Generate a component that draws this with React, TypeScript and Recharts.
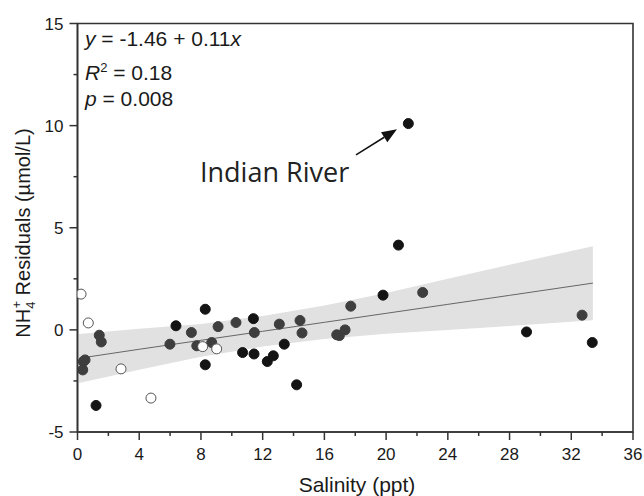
import {
  ComposedChart,
  XAxis,
  YAxis,
  Scatter,
  Line,
  Area,
  ReferenceArea,
  ReferenceLine,
} from "recharts";

// salinity (ppt) / NH4+ residual (umol/L)
const blackSalinity = [1.2, 6.38, 8.28, 8.28, 10.7, 11.4, 11.44, 12.3, 12.69, 13.4, 14.2, 19.8, 20.8, 21.44, 29.1, 33.36];
const blackResidual = [-3.7, 0.2, 1.01, -1.71, -1.11, 0.55, -1.18, -1.55, -1.27, -0.7, -2.69, 1.7, 4.15, 10.1, -0.1, -0.62];

const greySalinity = [1.41, 1.54, 0.38, 0.49, 0.34, 5.99, 7.38, 7.73, 8.7, 9.11, 10.27, 11.46, 13.08, 14.42, 14.55, 16.8, 16.97, 17.34, 17.71, 22.37, 32.7];
const greyResidual = [-0.26, -0.59, -1.55, -1.47, -1.96, -0.7, -0.13, -0.78, -0.62, 0.16, 0.36, -0.13, 0.28, 0.46, -0.15, -0.24, -0.28, 0.0, 1.16, 1.83, 0.72];

const openSalinity = [0.23, 0.7, 2.82, 4.76, 8.11, 9.02];
const openResidual = [1.75, 0.34, -1.91, -3.34, -0.82, -0.93];

// regression line and 95% band
const bandSalinity = [0.1, 4, 8, 12, 16, 20, 24, 28, 33.4];
const fitValues = [-1.39, -0.95, -0.51, -0.07, 0.37, 0.81, 1.25, 1.69, 2.29];
const bandLower = [-2.6, -1.95, -1.31, -0.82, -0.45, -0.19, 0.0, 0.19, 0.47];
const bandUpper = [-0.2, 0.05, 0.29, 0.68, 1.19, 1.81, 2.5, 3.19, 4.1];

const xTicks = [0, 2, 4, 6, 8, 10, 12, 14, 16, 18, 20, 22, 24, 26, 28, 30, 32, 34, 36];
const yTicks = [-5, -2.5, 0, 2.5, 5, 7.5, 10, 12.5, 15];

// arrow pointing at the Indian River site
const arrowFrom = { x: 18.05, y: 8.57 };
const arrowTo = { x: 20.7, y: 9.82 };

const toPoints = (xs: number[], ys: number[]) => xs.map((x, i) => ({ x, y: ys[i] }));
const blackData = toPoints(blackSalinity, blackResidual);
const greyData = toPoints(greySalinity, greyResidual);
const openData = toPoints(openSalinity, openResidual);
const bandData = bandSalinity.map((x, i) => ({
  x,
  fit: fitValues[i],
  range: [bandLower[i], bandUpper[i]],
}));

const W = 644;
const H = 496;
const FONT = "'Liberation Sans', Arial, sans-serif";
const AXIS = "#333";

const XTick = (props: any) => {
  const { x, y, payload } = props;
  const major = payload.value % 4 === 0;
  return (
    <g>
      <line x1={x} x2={x} y1={y} y2={y + (major ? 8 : 4)} stroke={AXIS} strokeWidth={1.5} />
      {major && (
        <text x={x} y={y + 28} textAnchor="middle" fontSize={17} fill="#1a1a1a" fontFamily={FONT}>
          {payload.value}
        </text>
      )}
    </g>
  );
};

const YTick = (props: any) => {
  const { x, y, payload } = props;
  const major = payload.value % 5 === 0;
  return (
    <g>
      <line x1={x - (major ? 8 : 4)} x2={x} y1={y} y2={y} stroke={AXIS} strokeWidth={1.5} />
      {major && (
        <text x={x - 14} y={y} dy="0.36em" textAnchor="end" fontSize={17} fill="#1a1a1a" fontFamily={FONT}>
          {payload.value}
        </text>
      )}
    </g>
  );
};

const dot = (fill: string, stroke: string) => (props: any) => (
  <circle cx={props.cx} cy={props.cy} r={5} fill={fill} stroke={stroke} strokeWidth={1} />
);

const Arrow = (props: any) => {
  const { x1, y1, x2, y2 } = props;
  const ang = Math.atan2(y2 - y1, x2 - x1);
  const len = 15;
  const half = 6;
  const bx = x2 - len * Math.cos(ang);
  const by = y2 - len * Math.sin(ang);
  const px = -Math.sin(ang) * half;
  const py = Math.cos(ang) * half;
  return (
    <g>
      <line x1={x1} y1={y1} x2={bx} y2={by} stroke="#111" strokeWidth={1.5} />
      <polygon points={`${x2},${y2} ${bx + px},${by + py} ${bx - px},${by - py}`} fill="#111" />
    </g>
  );
};

export default function App() {
  return (
    <div
      style={{
        position: "absolute",
        left: 0,
        top: 0,
        width: W,
        height: H,
        background: "#fff",
        fontFamily: FONT,
      }}
    >
      <ComposedChart width={W} height={H} margin={{ top: 23.5, right: 11, left: 0, bottom: 0 }}>
        <XAxis
          type="number"
          dataKey="x"
          domain={[0, 36]}
          ticks={xTicks}
          interval={0}
          tickSize={0}
          tickMargin={0}
          tick={<XTick />}
          axisLine={{ stroke: AXIS, strokeWidth: 1.6 }}
          height={64}
          allowDataOverflow
        />
        <YAxis
          type="number"
          domain={[-5, 15]}
          ticks={yTicks}
          interval={0}
          tickSize={0}
          tickMargin={0}
          tick={<YTick />}
          axisLine={{ stroke: AXIS, strokeWidth: 1.6 }}
          width={77.5}
          allowDataOverflow
        />
        <Area
          data={bandData}
          dataKey="range"
          type="linear"
          stroke="none"
          fill="#e1e1e1"
          fillOpacity={1}
          isAnimationActive={false}
        />
        <Line
          data={bandData}
          dataKey="fit"
          type="linear"
          stroke="#666"
          strokeWidth={1}
          dot={false}
          isAnimationActive={false}
        />
        <Scatter data={blackData} dataKey="y" shape={dot("#141414", "#141414")} isAnimationActive={false} />
        <Scatter data={greyData} dataKey="y" shape={dot("#3e3e3e", "#3e3e3e")} isAnimationActive={false} />
        <Scatter data={openData} dataKey="y" shape={dot("#ffffff", "#555")} isAnimationActive={false} />
        <ReferenceArea x1={0} x2={36} y1={-5} y2={15} fill="none" stroke={AXIS} strokeWidth={1.6} />
        <ReferenceLine segment={[arrowFrom, arrowTo]} shape={Arrow} />
      </ComposedChart>
      <svg
        width={W}
        height={H}
        style={{ position: "absolute", left: 0, top: 0, pointerEvents: "none" }}
        fontFamily={FONT}
        fill="#1a1a1a"
      >
        <text x={85} y={46} fontSize={21}>
          <tspan fontStyle="italic">y</tspan> = -1.46 + 0.11<tspan fontStyle="italic">x</tspan>
        </text>
        <text x={85} y={80} fontSize={21}>
          <tspan fontStyle="italic">R</tspan>
          <tspan fontSize={13} dy={-8}>2</tspan>
          <tspan dy={8}> = 0.18</tspan>
        </text>
        <text x={85} y={106} fontSize={21}>
          <tspan fontStyle="italic">p</tspan> = 0.008
        </text>
        <text x={200} y={182} fontSize={27} fontFamily="'Open Sans', sans-serif" fill="#222">
          Indian River
        </text>
        <text x={357} y={492} fontSize={21} textAnchor="middle">
          Salinity (ppt)
        </text>
        <text transform="translate(30,233) rotate(-90)" fontSize={20} textAnchor="middle">
          NH
          <tspan fontSize={13} dy={5}>4</tspan>
          <tspan fontSize={13} dx={-7} dy={-14}>+</tspan>
          <tspan dy={9}> Residuals (µmol/L)</tspan>
        </text>
      </svg>
    </div>
  );
}
